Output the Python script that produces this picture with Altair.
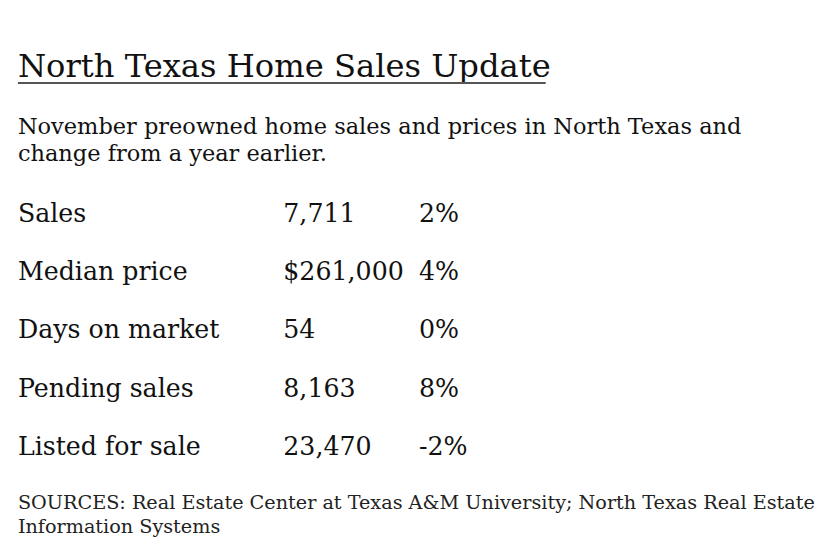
import altair as alt
import pandas as pd

title_text = "North Texas Home Sales Update"
subtitle_lines = ["November preowned home sales and prices in North Texas and",
                  "change from a year earlier."]
source_lines = ["SOURCES: Real Estate Center at Texas A&M University; North Texas Real Estate",
                "Information Systems"]

labels = ["Sales", "Median price", "Days on market", "Pending sales", "Listed for sale"]
values = ["7,711", "$261,000", "54", "8,163", "23,470"]
changes = ["2%", "4%", "0%", "8%", "-2%"]

FONT = "DejaVu Serif"
COLOR = "#111111"

df = pd.DataFrame({"label": labels, "value": values, "change": changes})

yscale = alt.Scale(domain=labels, type="point", range=[213, 449], padding=0)
y_enc = alt.Y("label:N", scale=yscale, axis=None)

def col(field, xpos):
    return alt.Chart(df).mark_text(
        align="left", baseline="alphabetic", font=FONT, fontSize=25.5, color=COLOR
    ).encode(x=alt.value(xpos), y=y_enc, text=alt.Text(f"{field}:N"))

base = alt.Chart(pd.DataFrame({"d": [0]}))

title = base.mark_text(text=title_text, align="left", baseline="alphabetic",
                       font=FONT, fontSize=32.5, color=COLOR).encode(
    x=alt.value(10), y=alt.value(67))
underline = base.mark_rule(color="#555555", strokeWidth=2).encode(
    x=alt.value(10), x2=alt.value(543), y=alt.value(73))
subtitle = base.mark_text(text=subtitle_lines, align="left", baseline="alphabetic",
                          font=FONT, fontSize=22.7, lineHeight=27, color=COLOR).encode(
    x=alt.value(10), y=alt.value(125))
sources = base.mark_text(text=source_lines, align="left", baseline="alphabetic",
                         font=FONT, fontSize=19.4, lineHeight=24, color="#222222").encode(
    x=alt.value(10), y=alt.value(503))

chart = alt.layer(
    title, underline, subtitle,
    col("label", 10), col("value", 278), col("change", 415),
    sources,
).properties(
    width=822, height=543, padding=0,
    autosize=alt.AutoSizeParams(type="none"),
).configure_view(stroke=None)

chart.save("out.html", embed_options={"renderer": "svg", "actions": False})
